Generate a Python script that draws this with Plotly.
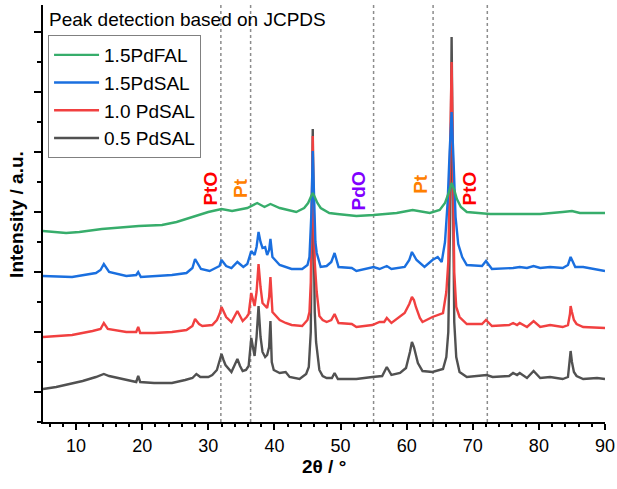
import plotly.graph_objects as go

# ---------------- data ----------------
two_theta_05 = [5.0, 7, 9, 11, 13, 14.2, 15, 16.5, 17.6, 18.5, 19.1, 19.4, 19.7, 21.8, 24.5, 26.5, 27.6, 28.2, 28.8,
                30.0, 30.6, 31.3, 31.7, 32.0, 32.3, 32.6, 33.5, 34.1, 34.4, 34.8, 35.2, 35.7, 36.1, 36.5, 37.0, 37.3,
                37.6, 37.9, 38.2, 38.6, 38.9, 39.2, 39.4, 39.6, 39.9, 40.8, 41.7, 42.3, 43.8, 44.8, 45.2, 45.5, 45.7,
                45.8, 45.9, 46.1, 46.3, 46.5, 46.8, 47.3, 47.9, 48.7, 49.1, 49.6, 52.4, 54.8, 56.3, 57.0, 57.7, 59.0,
                59.9, 60.5, 60.8, 61.1, 61.4, 61.7, 62.4, 63.9, 65.5, 66.0, 66.3, 66.6, 66.8, 67.0, 67.2, 67.5, 68.0,
                69.1, 72.1, 73.0, 75.5, 76.1, 76.7, 77.1, 78.2, 79.2, 80.2, 81.7, 83.6, 84.4, 84.7, 84.8, 85.0, 85.3,
                85.7, 86.7, 88.8, 90.0]
int_05 = [3, 5, 8, 11, 15, 18, 16, 14, 12, 11, 10, 16, 10, 9, 9, 12, 14, 18, 15,
          15, 17, 22, 30, 38, 32, 27, 20, 28, 33, 26, 21, 22, 26, 54, 36, 55,
          86, 55, 40, 35, 37, 45, 71, 30, 22, 19, 20, 15, 13, 18, 25, 60, 180,
          263, 180, 80, 50, 36, 22, 16, 14, 14, 19, 13, 13, 15, 16, 25, 17, 19,
          24, 40, 50, 45, 37, 29, 21, 20, 23, 35, 60, 180, 355, 180, 70, 35, 20,
          15, 17, 15, 16, 19, 17, 19, 14, 21, 14, 15, 13, 15, 32, 41, 30, 20,
          16, 13, 14, 13]

two_theta_10 = [5.0, 9.4, 12.5, 13.7, 14.2, 14.8, 17.6, 19.1, 19.4, 19.7, 21.8, 24.5, 26.7, 27.6, 28.0, 28.6, 29.1,
                30.6, 31.3, 31.7, 32.0, 32.3, 32.7, 33.5, 34.1, 34.4, 34.8, 35.2, 35.8, 36.1, 36.5, 37.0, 37.3, 37.6,
                37.9, 38.2, 38.9, 39.2, 39.4, 39.7, 40.8, 41.7, 42.6, 44.2, 45.0, 45.3, 45.5, 45.7, 45.8, 45.9, 46.1,
                46.4, 46.8, 47.3, 47.9, 48.6, 49.1, 49.7, 51.7, 52.4, 54.8, 55.9, 56.6, 57.0, 57.7, 59.7, 60.4, 60.8,
                61.1, 61.4, 62.0, 62.4, 63.9, 65.5, 66.0, 66.3, 66.6, 66.8, 67.0, 67.2, 67.5, 68.0, 69.1, 71.4, 72.0,
                72.9, 75.5, 76.1, 76.7, 77.1, 78.2, 79.2, 80.2, 81.7, 83.6, 84.4, 84.7, 84.8, 85.0, 85.3, 85.7, 86.7,
                90.0]
int_10 = [55, 57, 61, 63, 69, 63, 60, 60, 65, 59, 59, 60, 62, 66, 73, 68, 66,
          67, 72, 78, 85, 80, 75, 70, 77, 81, 76, 71, 75, 78, 99, 86, 100, 128,
          105, 89, 84, 95, 115, 80, 72, 69, 67, 66, 72, 80, 110, 200, 256, 200, 130,
          100, 76, 72, 70, 72, 78, 69, 68, 65, 67, 70, 70, 74, 69, 79, 88, 95,
          92, 85, 74, 70, 75, 79, 100, 130, 230, 330, 230, 120, 85, 75, 68, 68, 72,
          66, 67, 69, 67, 69, 65, 71, 65, 67, 65, 67, 78, 86, 80, 72,
          68, 65, 64]

two_theta_15s = [5.0, 9.4, 13.0, 13.7, 14.2, 15.0, 17.6, 19.1, 19.4, 19.8, 24.5, 26.7, 27.6, 28.0, 28.9, 30.2, 31.7,
                 32.0, 32.7, 33.5, 34.4, 35.3, 35.9, 36.1, 36.5, 37.0, 37.3, 37.6, 37.9, 38.2, 38.6, 38.9, 39.2, 39.4,
                 39.7, 40.8, 41.7, 42.6, 44.2, 45.0, 45.3, 45.6, 45.8, 46.0, 46.2, 46.4, 47.0, 47.9, 48.6, 49.1, 49.7,
                 51.7, 52.4, 55.0, 55.9, 57.0, 57.7, 59.7, 60.4, 60.8, 61.5, 62.7, 63.9, 64.7, 65.3, 65.8, 66.2, 66.5,
                 66.8, 67.1, 67.4, 67.8, 68.4, 69.1, 71.4, 72.0, 72.9, 76.1, 77.1, 78.2, 79.2, 80.2, 81.7, 83.6, 84.4,
                 84.8, 85.5, 86.7, 90.0]
int_15s = [116, 115, 119, 122, 128, 120, 116, 117, 120, 115, 117, 119, 124, 133, 123, 121, 126,
           132, 126, 124, 130, 125, 128, 132, 141, 137, 145, 160, 150, 144, 145, 137, 142, 153,
           135, 127, 125, 123, 123, 127, 135, 180, 241, 180, 150, 139, 125, 126, 130, 139, 125,
           124, 121, 125, 123, 126, 123, 125, 132, 140, 132, 125, 132, 135, 130, 150, 190, 240,
           280, 230, 175, 148, 135, 127, 126, 131, 123, 124, 125, 124, 126, 124, 125, 124, 127,
           135, 125, 125, 121]

two_theta_15f = [5.0, 8.5, 10.5, 13.9, 19.5, 23.0, 25.2, 28.2, 30.0, 32.0, 33.6, 35.9, 37.4, 38.5, 39.4, 40.8, 43.3,
                 44.5, 45.1, 45.5, 45.8, 46.1, 46.5, 47.0, 48.3, 49.5, 52.4, 55.0, 58.5, 60.9, 63.5, 65.0, 65.8, 66.3,
                 66.8, 67.2, 67.6, 68.2, 69.1, 72.6, 80.2, 83.6, 85.0, 86.2, 90.0]
int_15f = [161, 159, 160, 163, 166, 167, 170, 176, 180, 183, 181, 184, 189, 185, 188, 184, 180,
           184, 189, 195, 199, 195, 189, 184, 179, 178, 176, 177, 179, 182, 179, 182, 189, 198,
           209, 202, 193, 185, 180, 178, 178, 180, 181, 179, 179]

series_names = ["0.5 PdSAL", "1.0 PdSAL", "1.5PdSAL", "1.5PdFAL"]
series_colors = ["#515151", "#F14040", "#1A6FDF", "#37AD6B"]

ref_positions = [31.9, 36.4, 55.0, 64.0, 72.2]
phase_labels = ["PtO", "Pt", "PdO", "Pt", "PtO"]
phase_label_x = [30.2, 34.8, 52.7, 62.0, 69.5]
phase_label_y = [203, 204, 201, 208, 204]
phase_colors = ["#FF0000", "#FF8000", "#8000FF", "#FF8000", "#FF0000"]

x_ticks = [10, 20, 30, 40, 50, 60, 70, 80, 90]

# ---------------- figure ----------------
FONT = "Arial, Liberation Sans, sans-serif"
fig = go.Figure()

xs = [two_theta_05, two_theta_10, two_theta_15s, two_theta_15f]
ys = [int_05, int_10, int_15s, int_15f]
for x, y, n, c in zip(xs, ys, series_names, series_colors):
    fig.add_trace(go.Scatter(x=x, y=y, mode="lines", name=n,
                             line=dict(color=c, width=2.4)))

for xv in ref_positions:
    fig.add_vline(x=xv, line=dict(color="#8c8c8c", width=1.5, dash="dot"), layer="below")

for t, xv, yv, c in zip(phase_labels, phase_label_x, phase_label_y, phase_colors):
    fig.add_annotation(x=xv, y=yv, text="<b>%s</b>" % t, textangle=-90, showarrow=False,
                       font=dict(family=FONT, size=19, color=c), xanchor="center", yanchor="middle")

fig.add_annotation(x=0.007, y=0.965, xref="paper", yref="paper", text="Peak detection based on JCPDS",
                   showarrow=False, xanchor="left", yanchor="middle",
                   font=dict(family=FONT, size=19, color="black"))

# axis titles
fig.add_annotation(x=0.5, y=-0.106, xref="paper", yref="paper", text="<b>2θ / °</b>",
                   showarrow=False, xanchor="center", yanchor="middle",
                   font=dict(family=FONT, size=19, color="black"))
fig.add_annotation(x=-0.046, y=0.497, xref="paper", yref="paper", text="<b>Intensity / a.u.</b>",
                   showarrow=False, xanchor="center", yanchor="middle", textangle=-90,
                   font=dict(family=FONT, size=19, color="black"))

xr = [5, 90]
yr = [-30, 387]
fig.update_layout(
    width=617, height=489,
    margin=dict(l=43, r=12, t=5, b=67),
    plot_bgcolor="white", paper_bgcolor="white",
    font=dict(family=FONT, size=18, color="black"),
    showlegend=True,
    legend=dict(x=0.009, y=0.928, xanchor="left", yanchor="top", traceorder="reversed",
                bordercolor="#808080", borderwidth=1, bgcolor="white",
                font=dict(family=FONT, size=19), itemwidth=45, tracegroupgap=0),
    xaxis=dict(range=xr, tickvals=x_ticks, ticks="outside", ticklen=6, tickwidth=1.5, tickcolor="black",
               showline=True, linecolor="black", linewidth=1.8, showgrid=False, zeroline=False,
               automargin=False,
               minor=dict(ticks="outside", dtick=2, tick0=0, ticklen=3, tickwidth=1.5, tickcolor="black"),
               tickfont=dict(size=18)),
    yaxis=dict(range=yr, tick0=0, dtick=60, ticks="outside", ticklen=7, tickwidth=1.5, tickcolor="black",
               showticklabels=False, showline=True, linecolor="black", linewidth=1.8,
               showgrid=False, zeroline=False, automargin=False,
               minor=dict(ticks="outside", dtick=30, tick0=0, ticklen=4, tickwidth=1.5, tickcolor="black")),
    xaxis2=dict(range=xr, overlaying="x", side="top", anchor="y", tickvals=x_ticks, ticks="inside", ticklen=5,
                tickwidth=1.5, tickcolor="black", showticklabels=False, showline=True, linecolor="black",
                linewidth=1.8, showgrid=False, zeroline=False, automargin=False,
                minor=dict(ticks="inside", dtick=2, tick0=0, ticklen=3, tickwidth=1.5, tickcolor="black")),
    yaxis2=dict(range=yr, overlaying="y", side="right", anchor="x", tick0=0, dtick=60, ticks="inside", ticklen=6,
                tickwidth=1.5, tickcolor="black", showticklabels=False, showline=True, linecolor="black",
                linewidth=1.8, showgrid=False, zeroline=False, automargin=False,
                minor=dict(ticks="inside", dtick=30, tick0=0, ticklen=4, tickwidth=1.5, tickcolor="black")),
)

fig.write_html("out.html", config={"displayModeBar": False},
               post_script="document.body.style.margin='0';document.body.style.overflow='hidden';")
